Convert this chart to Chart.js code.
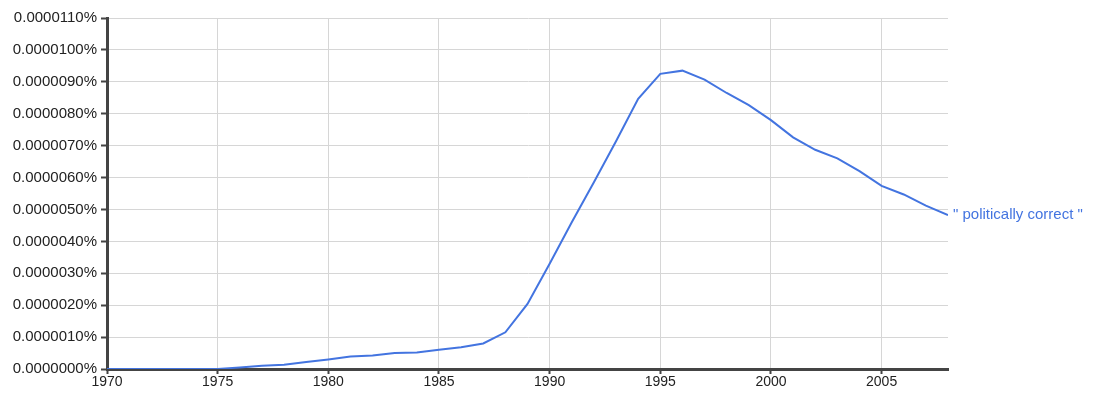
<!DOCTYPE html>
<html>
<head>
<meta charset="utf-8">
<script src="https://cdn.jsdelivr.net/npm/chart.js@4"></script>
<style>
    html, body { margin: 0; padding: 0; background: #fff; }
    #wrap { width: 1093px; height: 396px; }
</style>
</head>
<body>
<div id="wrap"><canvas id="chart" width="1093" height="396"></canvas></div>
<script>
const years = [
    1970, 1971, 1972, 1973, 1974, 1975, 1976, 1977, 1978, 1979,
    1980, 1981, 1982, 1983, 1984, 1985, 1986, 1987, 1988, 1989,
    1990, 1991, 1992, 1993, 1994, 1995, 1996, 1997, 1998, 1999,
    2000, 2001, 2002, 2003, 2004, 2005, 2006, 2007, 2008,
];
// frequency in percent
const politicallyCorrect = [
    0, 0, 0, 0, 0, 0, 0.00000005, 0.0000001, 0.00000013, 0.00000022,
    0.0000003, 0.00000039, 0.00000042, 0.0000005, 0.00000052, 0.0000006, 0.00000068, 0.0000008, 0.00000115, 0.00000204,
    0.0000033, 0.0000046, 0.00000585, 0.00000714, 0.00000847, 0.00000925, 0.00000935, 0.00000907, 0.00000865, 0.00000827,
    0.0000078, 0.00000726, 0.00000687, 0.0000066, 0.0000062, 0.00000574, 0.00000547, 0.00000512, 0.00000482,
];
const seriesLabel = '" politically correct "';

const lineColor = "#4374e0";
const axisColor = "#444444";
const gridColor = "#d6d6d6";
const family = "'Liberation Sans', Arial, sans-serif";

const endLabel = {
    id: "endLabel",
    afterDatasetsDraw(chart) {
        const ctx = chart.ctx;
        const meta = chart.getDatasetMeta(0);
        const last = meta.data[meta.data.length - 1];
        ctx.save();
        ctx.font = `15px ${family}`;
        ctx.fillStyle = lineColor;
        ctx.textBaseline = "middle";
        ctx.textAlign = "left";
        ctx.fillText(seriesLabel, last.x + 5, last.y);
        ctx.restore();
    },
};

new Chart(document.getElementById("chart").getContext("2d"), {
    type: "line",
    data: {
        datasets: [{
            label: seriesLabel,
            data: years.map((y, i) => ({ x: y, y: politicallyCorrect[i] })),
            borderColor: lineColor,
            borderWidth: 2,
            pointRadius: 0,
            tension: 0,
            fill: false,
        }],
    },
    options: {
        responsive: false,
        animation: false,
        layout: { padding: { top: 18, right: 145, left: 0, bottom: 0 } },
        plugins: {
            legend: { display: false },
            tooltip: { enabled: false },
        },
        scales: {
            x: {
                type: "linear",
                min: 1970,
                max: 2008,
                afterBuildTicks: (scale) => {
                    scale.ticks = scale.ticks.filter((t) => t.value % 5 === 0);
                },
                afterFit: (scale) => { scale.height = 27; },
                ticks: {
                    stepSize: 5,
                    color: "#222",
                    font: { family: family, size: 14 },
                    padding: 0,
                    maxRotation: 0,
                    callback: (v) => String(v),
                },
                grid: {
                    color: gridColor,
                    lineWidth: 1,
                    tickColor: axisColor,
                    tickLength: 5,
                    tickWidth: 2,
                },
                border: { color: axisColor, width: 3 },
            },
            y: {
                min: 0,
                max: 0.000011,
                afterFit: (scale) => { scale.width = 107; },
                ticks: {
                    stepSize: 0.000001,
                    color: "#222",
                    font: { family: family, size: 15 },
                    padding: 4,
                    callback: (v) => (Math.round(v * 1e7) / 1e7).toFixed(7) + "%",
                },
                grid: {
                    color: gridColor,
                    lineWidth: 1,
                    tickColor: axisColor,
                    tickLength: 6,
                    tickWidth: 2,
                },
                border: { color: axisColor, width: 3 },
            },
        },
    },
    plugins: [endLabel],
});
</script>
</body>
</html>
